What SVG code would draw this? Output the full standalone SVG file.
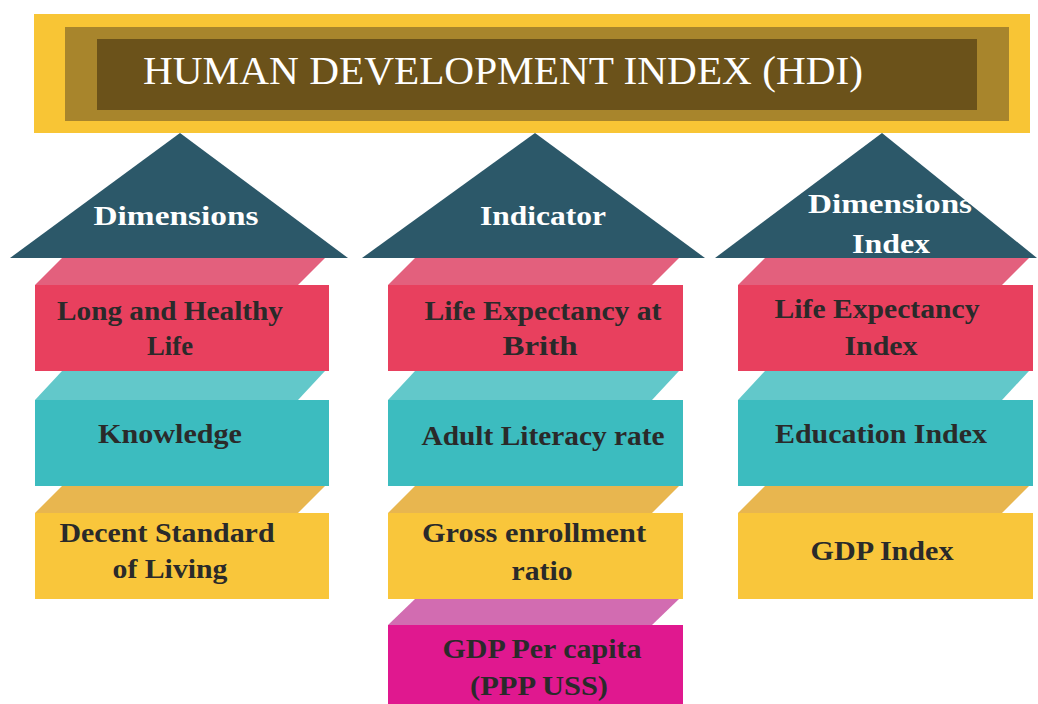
<svg xmlns="http://www.w3.org/2000/svg" width="1038" height="704" viewBox="0 0 1038 704">
<style>
.lbl{font-family:"Liberation Serif","Times New Roman",serif;font-weight:bold;font-size:27px;fill:#2a2a2a;text-anchor:middle}
.hd{font-family:"Liberation Serif","Times New Roman",serif;font-weight:bold;font-size:28px;fill:#ffffff;text-anchor:middle}
.tri{fill:#2c5869}
.pkF{fill:#e8405e}.pkT{fill:#e3607d}
.tlF{fill:#3cbcbf}.tlT{fill:#62c8ca}
.gdF{fill:#f9c63b}.gdT{fill:#e8b64f}
.mgF{fill:#e0188f}.mgT{fill:#d26cb1}
</style>
<rect width="1038" height="704" fill="#ffffff"/>
<g id="title">
<rect x="34" y="14" width="996" height="119" fill="#f8c535"/>
<rect x="65" y="27" width="944" height="94" fill="#a8852c"/>
<rect x="97" y="39" width="880" height="71" fill="#6b521a"/>
<text x="503" y="84" font-family="Liberation Serif, Times New Roman, serif" font-size="40" fill="#ffffff" text-anchor="middle" textLength="720" lengthAdjust="spacingAndGlyphs">HUMAN DEVELOPMENT INDEX (HDI)</text>
</g>
<g id="dimensions">
<polygon class="tri" points="180,133 348,258 10,258"/>
<text class="hd" x="176" y="225" textLength="165" lengthAdjust="spacingAndGlyphs">Dimensions</text>
</g>
<g id="indicator">
<polygon class="tri" points="535,133 705,258 362,258"/>
<text class="hd" x="543" y="225" textLength="126" lengthAdjust="spacingAndGlyphs">Indicator</text>
</g>
<g id="dimensions-index">
<polygon class="tri" points="882,133 1037,258 715,258"/>
<text class="hd" x="890" y="213" textLength="164" lengthAdjust="spacingAndGlyphs">Dimensions</text>
<text class="hd" x="891" y="253" textLength="78" lengthAdjust="spacingAndGlyphs">Index</text>
</g>
<g id="long-healthy-life">
<polygon class="pkT" points="35,285 62,258 325,258 298,285"/>
<rect class="pkF" x="35" y="285" width="294" height="86"/>
<text class="lbl" x="170" y="320" textLength="226" lengthAdjust="spacingAndGlyphs">Long and Healthy</text>
<text class="lbl" x="170" y="355" textLength="46" lengthAdjust="spacingAndGlyphs">Life</text>
</g>
<g id="knowledge">
<polygon class="tlT" points="35,400 62,371 325,371 298,400"/>
<rect class="tlF" x="35" y="400" width="294" height="86"/>
<text class="lbl" x="170" y="443" textLength="144" lengthAdjust="spacingAndGlyphs">Knowledge</text>
</g>
<g id="decent-standard">
<polygon class="gdT" points="35,513 62,486 325,486 298,513"/>
<rect class="gdF" x="35" y="513" width="294" height="86"/>
<text class="lbl" x="167" y="542" textLength="215" lengthAdjust="spacingAndGlyphs">Decent Standard</text>
<text class="lbl" x="170" y="578" textLength="115" lengthAdjust="spacingAndGlyphs">of Living</text>
</g>
<g id="life-expectancy-birth">
<polygon class="pkT" points="388,285 415,258 679,258 652,285"/>
<rect class="pkF" x="388" y="285" width="295" height="86"/>
<text class="lbl" x="543" y="320" textLength="237" lengthAdjust="spacingAndGlyphs">Life Expectancy at</text>
<text class="lbl" x="540" y="355" textLength="75" lengthAdjust="spacingAndGlyphs">Brith</text>
</g>
<g id="adult-literacy">
<polygon class="tlT" points="388,400 415,371 679,371 652,400"/>
<rect class="tlF" x="388" y="400" width="295" height="86"/>
<text class="lbl" x="543" y="445" textLength="243" lengthAdjust="spacingAndGlyphs">Adult Literacy rate</text>
</g>
<g id="gross-enrollment">
<polygon class="gdT" points="388,513 415,486 679,486 652,513"/>
<rect class="gdF" x="388" y="513" width="295" height="86"/>
<text class="lbl" x="534" y="542" textLength="224" lengthAdjust="spacingAndGlyphs">Gross enrollment</text>
<text class="lbl" x="542" y="580" textLength="61" lengthAdjust="spacingAndGlyphs">ratio</text>
</g>
<g id="gdp-per-capita">
<polygon class="mgT" points="388,625 415,599 679,599 652,625"/>
<rect class="mgF" x="388" y="625" width="295" height="79"/>
<text class="lbl" x="542" y="658" textLength="199" lengthAdjust="spacingAndGlyphs">GDP Per capita</text>
<text class="lbl" x="539" y="695" textLength="138" lengthAdjust="spacingAndGlyphs">(PPP USS)</text>
</g>
<g id="life-expectancy-index">
<polygon class="pkT" points="738,285 765,258 1029,258 1002,285"/>
<rect class="pkF" x="738" y="285" width="295" height="86"/>
<text class="lbl" x="877" y="318" textLength="205" lengthAdjust="spacingAndGlyphs">Life Expectancy</text>
<text class="lbl" x="881" y="355" textLength="73" lengthAdjust="spacingAndGlyphs">Index</text>
</g>
<g id="education-index">
<polygon class="tlT" points="738,400 765,371 1029,371 1002,400"/>
<rect class="tlF" x="738" y="400" width="295" height="86"/>
<text class="lbl" x="881" y="443" textLength="212" lengthAdjust="spacingAndGlyphs">Education Index</text>
</g>
<g id="gdp-index">
<polygon class="gdT" points="738,513 765,486 1029,486 1002,513"/>
<rect class="gdF" x="738" y="513" width="295" height="86"/>
<text class="lbl" x="882" y="560" textLength="143" lengthAdjust="spacingAndGlyphs">GDP Index</text>
</g>
<g id="connectors"/>
</svg>
